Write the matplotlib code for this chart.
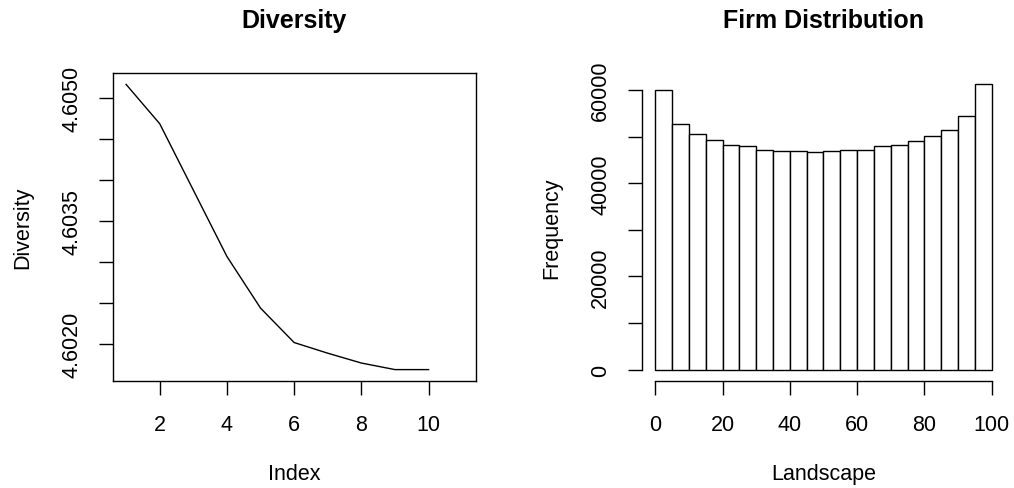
import matplotlib
matplotlib.use("Agg")
import matplotlib.pyplot as plt
import numpy as np

plt.rcParams['font.family'] = ['Liberation Sans', 'DejaVu Sans']

# left panel: diversity per index
index = [1, 2, 3, 4, 5, 6, 7, 8, 9, 10]
diversity = [4.60517, 4.60469, 4.60388, 4.60307, 4.60244,
             4.60202, 4.60189, 4.60177, 4.60169, 4.60169]

# right panel: histogram of firm landscape positions
bin_edges = np.arange(0, 105, 5)
counts = [59930, 52770, 50620, 49330, 48260, 47970, 47110, 46970, 46970, 46680,
          46970, 47040, 47180, 47970, 48190, 49120, 50050, 51480, 54420, 61220]

fs = 15.5
tick_len = 9.9

fig = plt.figure(figsize=(10.14, 4.89), dpi=100)
ax1 = fig.add_axes([0.1111, 0.2188, 0.3580, 0.6299])
ax2 = fig.add_axes([0.6329, 0.2188, 0.3584, 0.6299])

# ---- Diversity line
ax1.plot(index, diversity, color='black', lw=1.0)
ax1.set_xlim(0.6, 11.4)
rng = max(diversity) - min(diversity)
ax1.set_ylim(min(diversity) - 0.04 * rng, max(diversity) + 0.04 * rng)
ax1.set_xticks([2, 4, 6, 8, 10])
yt = [4.6020, 4.6025, 4.6030, 4.6035, 4.6040, 4.6045, 4.6050]
ax1.set_yticks(yt)
ax1.set_yticklabels(['4.6020', '', '', '4.6035', '', '', '4.6050'],
                    rotation=90, va='center')
for s in ax1.spines.values():
    s.set_linewidth(1.0)
ax1.set_title('Diversity', fontsize=18, fontweight='bold', pad=33)
ax1.set_xlabel('Index', fontsize=fs, labelpad=20)
ax1.set_ylabel('Diversity', fontsize=fs, labelpad=20)

# ---- Firm distribution histogram
ax2.bar(bin_edges[:-1], counts, width=np.diff(bin_edges), align='edge',
        facecolor='white', edgecolor='black', lw=1.0)
ax2.set_xlim(-4, 104)
ax2.set_ylim(-0.04 * max(counts), 1.04 * max(counts))
ax2.set_xticks([0, 20, 40, 60, 80, 100])
ax2.set_yticks(np.arange(0, 70000, 10000))
ax2.set_yticklabels(['0', '', '20000', '', '40000', '', '60000'],
                    rotation=90, va='center')
ax2.spines['top'].set_visible(False)
ax2.spines['right'].set_visible(False)
ax2.spines['bottom'].set_bounds(0, 100)
ax2.spines['left'].set_bounds(0, 60000)
for s in ax2.spines.values():
    s.set_linewidth(1.0)
ax2.set_title('Firm Distribution', fontsize=18, fontweight='bold', pad=33)
ax2.set_xlabel('Landscape', fontsize=fs, labelpad=20)
ax2.set_ylabel('Frequency', fontsize=fs, labelpad=20)

for ax in (ax1, ax2):
    ax.tick_params(axis='x', length=tick_len, width=1.0, labelsize=fs, pad=14)
    ax.tick_params(axis='y', length=tick_len, width=1.0, labelsize=fs, pad=12)

fig.savefig('out.png', dpi=100, facecolor='white')
